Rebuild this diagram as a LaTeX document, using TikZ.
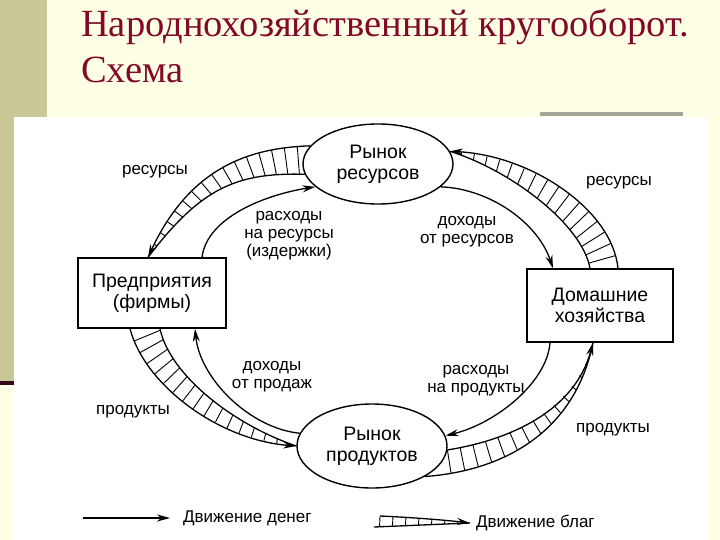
\documentclass[tikz,border=0pt]{standalone}
\usepackage{fontspec}
\setmainfont{Liberation Serif}
\setsansfont{Liberation Sans}
\usepackage{tikz}
\usetikzlibrary{shapes.geometric, arrows.meta, decorations.markings}
\definecolor{cream}{RGB}{255,255,229}
\definecolor{olivestrip}{RGB}{200,200,150}
\definecolor{titlered}{RGB}{130,10,40}
\definecolor{edgegray}{RGB}{165,165,155}
\definecolor{darkbar}{RGB}{50,10,25}
\tikzstyle{market} = [ellipse, draw=black, line width=1.4pt, minimum width=150pt, minimum height=80pt, inner sep=0pt, align=center, font=\sffamily\fontsize{19.5}{21}\selectfont]
\tikzstyle{agent} = [rectangle, draw=black, line width=1.4pt, minimum width=148pt, minimum height=70pt, align=center, font=\sffamily\fontsize{19.5}{21}\selectfont]
\tikzstyle{lbl} = [align=center, inner sep=0pt, font=\sffamily\fontsize{17}{18}\selectfont]
\tikzstyle{arrow} = [line width=1.3pt, ->, >={Stealth[length=13pt,width=7pt]}]
\tikzstyle{hatch} = [postaction={decorate}, decoration={markings, mark=between positions 0 and 1 step 13pt with {\draw[line width=0.9pt] (0,-30pt) -- (0,30pt);}}]
% band of goods: edge with arrow, its controls, tip, other edge and its controls
\newcommand{\goodsband}[7]{%
  \begin{scope}
    \clip #1 .. controls #2 and #3 .. #4 .. controls #7 and #6 .. #5 -- cycle;
    \path[hatch] #1 .. controls #2 and #3 .. #4;
  \end{scope}
  \draw[arrow] #1 .. controls #2 and #3 .. #4;
  \draw[line width=1.3pt] #5 .. controls #6 and #7 .. #4;
}

\begin{document}
\begin{tikzpicture}[x=1pt, y=-1pt]
  \useasboundingbox (0,0) rectangle (720,540);
  % slide
  \fill[cream] (0,0) rectangle (720,540);
  \fill[olivestrip] (0,0) rectangle (47,383);
  \fill[darkbar] (0,381) rectangle (14,385);
  \fill[white] (14,117) rectangle (708,540);
  \fill[edgegray] (540,112) rectangle (683,116);

  \node (title) [anchor=base west, inner sep=0pt, text=titlered, font=\fontsize{38.5}{40}\selectfont] at (81,37) {Народнохозяйственный кругооборот.};
  \node (subtitle) [anchor=base west, inner sep=0pt, text=titlered, font=\fontsize{38.5}{40}\selectfont] at (81,83) {Схема};

  \node (resm) [market] at (378,164) {Рынок\\ресурсов};
  \node (prm) [market, minimum height=84pt] at (372,446) {Рынок\\продуктов};
  \node (firm) [agent] at (152,293) {Предприятия\\(фирмы)};
  \node (home) [agent, minimum width=146pt, minimum height=73pt] at (600,305.5) {Домашние\\хозяйства};

  % money
  \draw [arrow] ([xshift=50pt]firm.north) .. controls +(5,-40) and +(-50,8) .. (resm.200);
  \draw [arrow] (resm.-20) .. controls +(50,2) and +(-15,-45) .. ([xshift=-47pt]home.north);
  \draw [arrow] ([xshift=-50pt]home.south) .. controls +(-3,40) and +(50,-12) .. (prm.8);
  \draw [arrow] (prm.170) .. controls +(-50,-5) and +(5,50) .. ([xshift=43pt]firm.south);

  % goods
  \goodsband{(resm.165)}{+(-61,2)}{+(42,-90)}{([xshift=-4pt]firm.north)}{(resm.188)}{+(-70,-2)}{+(52,-68)}
  \goodsband{([xshift=18pt]home.north)}{+(-6,-59)}{+(81,4)}{(resm.10)}{([xshift=-10pt]home.north)}{+(-8,-44)}{+(61,19)}
  \goodsband{([xshift=-22pt]firm.south)}{+(15,57)}{+(-77,-6)}{(prm.180)}{([xshift=8pt]firm.south)}{+(10,47)}{+(-62,-21)}
  \goodsband{(prm.-3)}{+(63,-10)}{+(-18,68)}{([xshift=-7pt]home.south)}{(prm.-30)}{+(81,-6)}{+(-18,88)}

  \node (lres1) [lbl] at (155,172) {ресурсы};
  \node (lres2) [lbl] at (619,183) {ресурсы};
  \node (lprod1) [lbl] at (133,412) {продукты};
  \node (lprod2) [lbl] at (613,430) {продукты};
  \node (lcost) [lbl] at (289,236) {расходы\\на ресурсы\\(издержки)};
  \node (linc) [lbl] at (467,232) {доходы\\от ресурсов};
  \node (lsales) [lbl] at (272,377) {доходы\\от продаж};
  \node (lspend) [lbl] at (476,381) {расходы\\на продукты};

  % legend
  \coordinate (m1) at (83,518);
  \coordinate (m2) at (170,518);
  \draw [arrow] (m1) -- (m2);
  \node (lmoney) [lbl, anchor=west] at (183,518) {Движение денег};
  \coordinate (g1) at (380,516);
  \coordinate (g2) at (374,527);
  \coordinate (g3) at (470,523);
  \goodsband{(g1)}{+(25,1)}{+(-25,-3)}{(g3)}{(g2)}{+(25,-1)}{+(-25,1)}
  \node (lgoods) [lbl, anchor=west] at (476,523) {Движение благ};
\end{tikzpicture}
\end{document}
